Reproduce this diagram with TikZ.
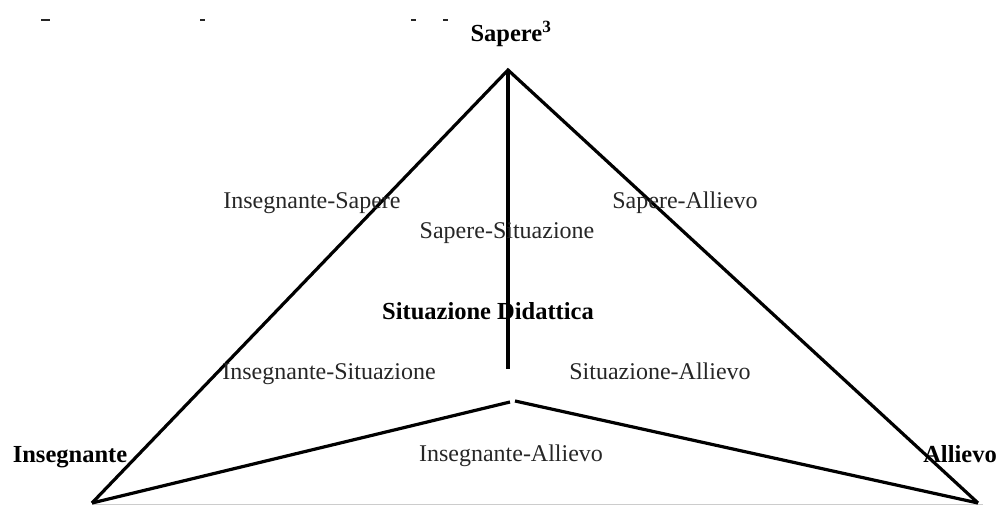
\documentclass[tikz,border=0pt]{standalone}
\usepackage{fontspec}
\setmainfont{Liberation Serif}
\begin{document}
\begin{tikzpicture}[x=1pt,y=-1pt,
  edge/.style={line width=3.2pt,line join=miter},
  lbl/.style={font=\fontsize{24}{28}\selectfont,anchor=base,inner sep=0pt,text=black!85},
  vtx/.style={font=\fontsize{24.5}{28}\selectfont\bfseries,anchor=base,inner sep=0pt},
  tick/.style={line width=1.8pt,black!85}]
\useasboundingbox (0,0) rectangle (999,505);

% corners of the triangle and the inner junction
\coordinate (S) at (508,70);
\coordinate (I) at (92,503);
\coordinate (A) at (978,503);
\coordinate (Cv) at (508,369);
\coordinate (Cl) at (510,402);
\coordinate (Cr) at (515,401);

% faint baseline along the lower edge
\coordinate (gl) at (92,504);
\coordinate (gr) at (983,504);
\draw[black!20,line width=1pt] (gl) -- (gr);

% small marks left over from the line above
\coordinate (t1a) at (41,20); \coordinate (t1b) at (50,20);
\coordinate (t2a) at (200,20); \coordinate (t2b) at (205,20);
\coordinate (t3a) at (411,20); \coordinate (t3b) at (416,20);
\coordinate (t4a) at (443,20); \coordinate (t4b) at (448,20);
\draw[tick] (t1a) -- (t1b);
\draw[tick] (t2a) -- (t2b);
\draw[tick] (t3a) -- (t3b);
\draw[tick] (t4a) -- (t4b);

% edges
\draw[edge] (I) -- (S) -- (A);
\draw[edge] (S) -- (Cv);
\draw[edge] (I) -- (Cl);
\draw[edge] (Cr) -- (A);

% vertex labels
\node[vtx] (nS) at (511,42) {Sapere\textsuperscript{3}};
\node[vtx] (nI) at (70,462) {Insegnante};
\node[vtx] (nA) at (960,462) {Allievo};
\node[vtx] (nC) at (488,319) {Situazione Didattica};

% relation labels
\node[lbl] (lIS) at (312,209) {Insegnante-Sapere};
\node[lbl] (lSA) at (685,209) {Sapere-Allievo};
\node[lbl] (lSS) at (507,239) {Sapere-Situazione};
\node[lbl] (lIC) at (329,379) {Insegnante-Situazione};
\node[lbl] (lCA) at (660,379) {Situazione-Allievo};
\node[lbl] (lIA) at (511,461) {Insegnante-Allievo};
\end{tikzpicture}
\end{document}
